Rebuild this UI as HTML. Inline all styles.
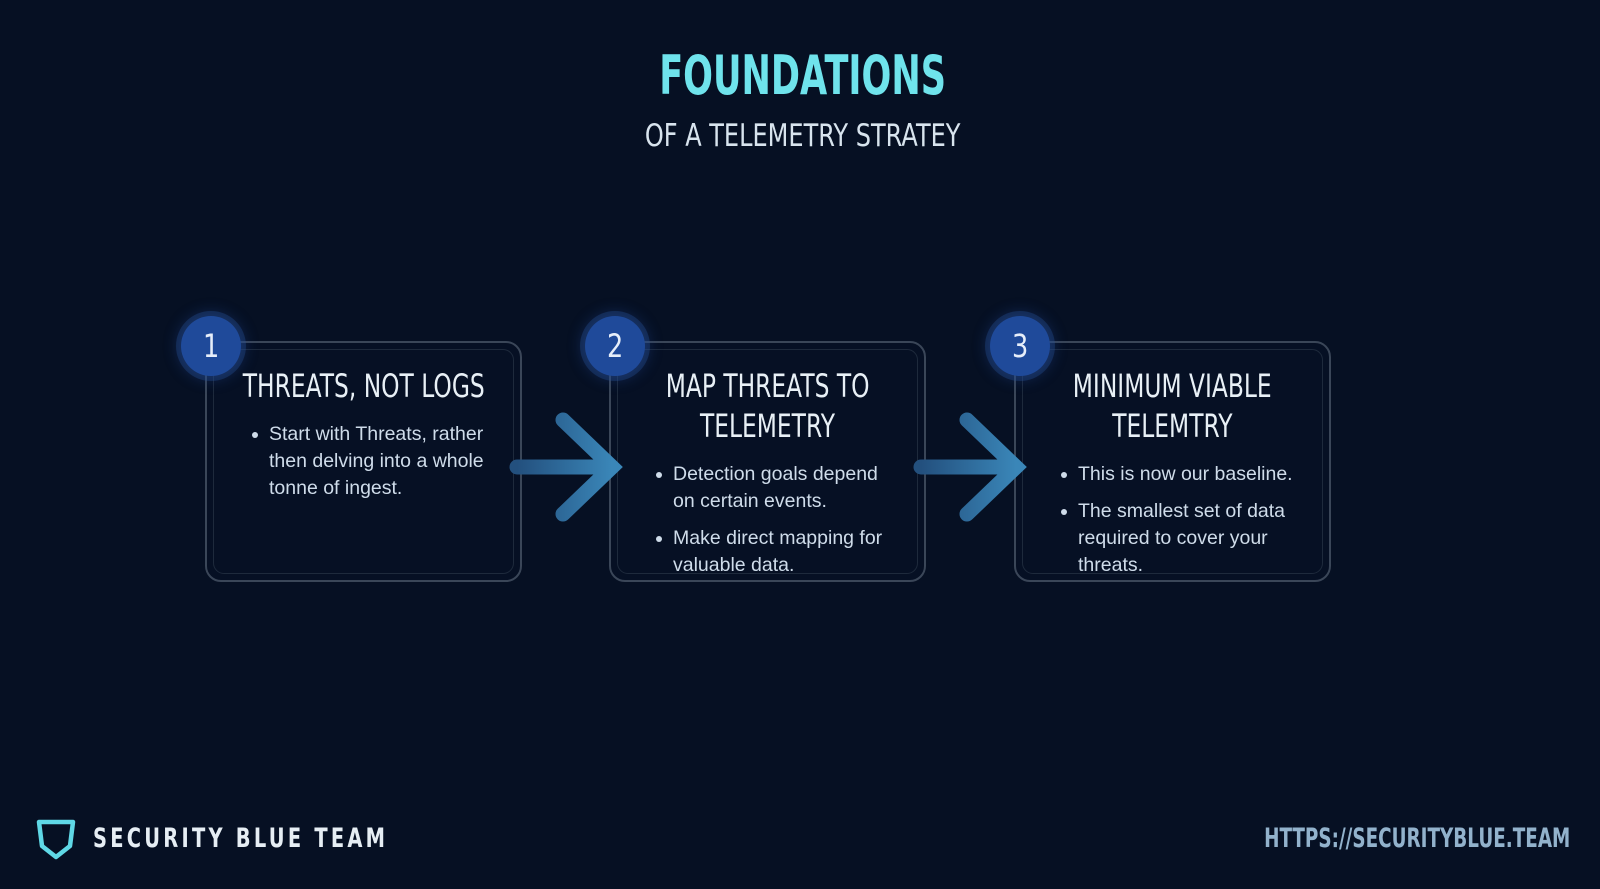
<!DOCTYPE html>
<html><head><meta charset="utf-8"><style>
*{margin:0;padding:0;box-sizing:border-box}
body{width:1600px;height:889px;background:#061023;position:relative;overflow:hidden;font-family:"Liberation Sans",sans-serif}
.cond{font-family:"DejaVu Sans",sans-serif}
.abs{position:absolute}
.sx{display:inline-block;white-space:nowrap}
.box{position:absolute;top:341px;width:317px;height:241px;border:2px solid #3a4658;border-radius:16px;background:#061024}
.box::after{content:"";position:absolute;inset:6px;border:1px solid #1e2a3c;border-radius:11px}
.circ{position:absolute;width:60px;height:60px;border-radius:50%;background:#1f4a9a;box-shadow:0 0 0 5px rgba(40,80,150,.35),0 0 14px 4px rgba(30,70,150,.4);color:#e6eefa;font-size:32px;text-align:center;line-height:60px;z-index:2}
.h{position:absolute;width:417px;margin-left:-50px;text-align:center;color:#e8f0f6;font-size:32px;line-height:40px;z-index:3}
.h .sx{transform:scaleX(.73)}
ul{position:absolute;list-style:none;color:#cfdcea;font-size:19.5px;line-height:27px;z-index:3;width:222px}
li{position:relative}
li::before{content:"";position:absolute;left:-17px;top:11px;width:6px;height:6px;border-radius:50%;background:#cfdcea}
</style></head><body>
<div class="abs cond" style="left:0;width:1606px;top:46px;text-align:center;font-size:54px;font-weight:bold;color:#6fe3ec;line-height:60px"><span class="sx" style="transform:scaleX(.65)">FOUNDATIONS</span></div>
<div class="abs cond" style="left:0;width:1606px;top:117px;text-align:center;font-size:31px;color:#d8e4ee;line-height:38px"><span class="sx" style="transform:scaleX(.775)">OF A TELEMETRY STRATEY</span></div>

<div class="box" style="left:205px"></div>
<div class="box" style="left:609px"></div>
<div class="box" style="left:1014px"></div>

<div class="circ cond" style="left:181px;top:316px"><span class="sx" style="transform:scaleX(.8)">1</span></div>
<div class="circ cond" style="left:585px;top:316px"><span class="sx" style="transform:scaleX(.8)">2</span></div>
<div class="circ cond" style="left:990px;top:316px"><span class="sx" style="transform:scaleX(.8)">3</span></div>

<svg class="abs" style="left:0;top:0;z-index:4" width="1600" height="889">
<defs>
<linearGradient id="g1" gradientUnits="userSpaceOnUse" x1="517" y1="0" x2="612" y2="0"><stop offset="0" stop-color="#23507e"/><stop offset="1" stop-color="#3a86b8"/></linearGradient>
<linearGradient id="g2" gradientUnits="userSpaceOnUse" x1="921" y1="0" x2="1016" y2="0"><stop offset="0" stop-color="#23507e"/><stop offset="1" stop-color="#3a86b8"/></linearGradient>
</defs>
<g fill="none" stroke-width="15" stroke-linecap="round">
<path d="M517 467 H605" stroke="url(#g1)"/><path d="M563 420 L612 467 L563 514" stroke="url(#g1)"/>
<path d="M921 467 H1009" stroke="url(#g2)"/><path d="M967 420 L1016 467 L967 514" stroke="url(#g2)"/>
</g></svg>

<div class="h cond" style="left:205px;top:366px"><span class="sx">THREATS, NOT LOGS</span></div>
<ul style="left:269px;top:421px"><li>Start with Threats, rather then delving into a whole tonne of ingest.</li></ul>

<div class="h cond" style="left:609px;top:366px"><span class="sx">MAP THREATS TO</span><br><span class="sx">TELEMETRY</span></div>
<ul style="left:673px;top:461px"><li>Detection goals depend on certain events.</li><li style="margin-top:10px">Make direct mapping for valuable data.</li></ul>

<div class="h cond" style="left:1014px;top:366px"><span class="sx">MINIMUM VIABLE</span><br><span class="sx">TELEMTRY</span></div>
<ul style="left:1078px;top:461px"><li>This is now our baseline.</li><li style="margin-top:10px">The smallest set of data required to cover your threats.</li></ul>

<svg class="abs" style="left:35px;top:818px" width="42" height="42"><path d="M4 4 L38 4 L35 28 L21 39 L7 28 Z" fill="none" stroke="#5fd8e6" stroke-width="4.5" stroke-linejoin="round"/></svg>
<div class="abs cond" style="left:93px;top:822px;font-size:27px;font-weight:bold;letter-spacing:4.5px;color:#e6eef4;line-height:34px;transform-origin:left center;transform:scaleX(.72);white-space:nowrap">SECURITY BLUE TEAM</div>
<div class="abs cond" style="right:30px;top:822px;font-size:27px;font-weight:bold;color:#92b2cc;line-height:34px;transform-origin:right center;transform:scaleX(.68);white-space:nowrap">HTTPS://SECURITYBLUE.TEAM</div>
</body></html>
